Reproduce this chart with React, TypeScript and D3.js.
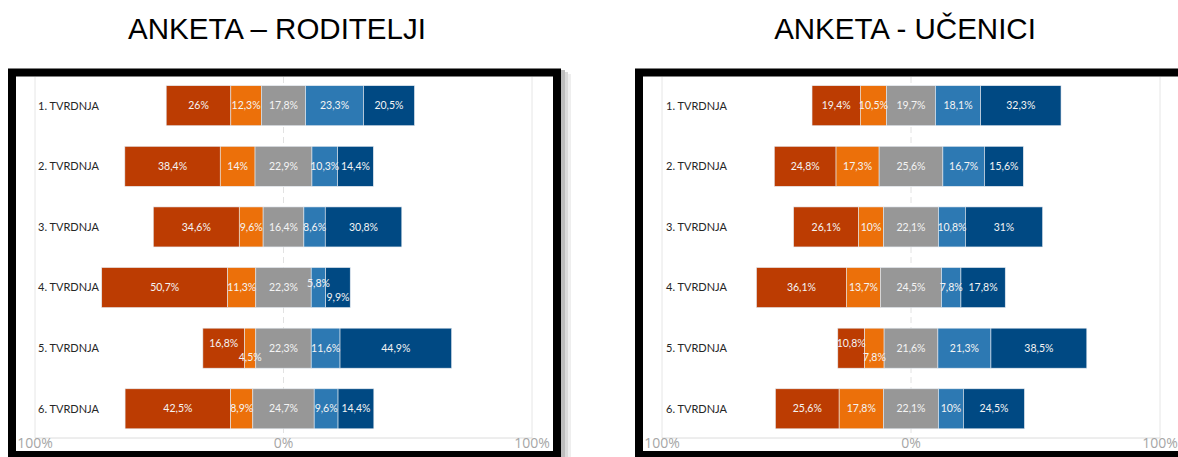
import React from 'react';
import * as d3 from 'd3';

const categories = ['1. TVRDNJA', '2. TVRDNJA', '3. TVRDNJA', '4. TVRDNJA', '5. TVRDNJA', '6. TVRDNJA'];

// five answer levels per statement, from most negative to most positive
const roditelji = [
	[26, 12.3, 17.8, 23.3, 20.5],
	[38.4, 14, 22.9, 10.3, 14.4],
	[34.6, 9.6, 16.4, 8.6, 30.8],
	[50.7, 11.3, 22.3, 5.8, 9.9],
	[16.8, 4.5, 22.3, 11.6, 44.9],
	[42.5, 8.9, 24.7, 9.6, 14.4],
];

const ucenici = [
	[19.4, 10.5, 19.7, 18.1, 32.3],
	[24.8, 17.3, 25.6, 16.7, 15.6],
	[26.1, 10, 22.1, 10.8, 31],
	[36.1, 13.7, 24.5, 7.8, 17.8],
	[10.8, 7.8, 21.6, 21.3, 38.5],
	[25.6, 17.8, 22.1, 10, 24.5],
];

const axisTicks = [-100, 0, 100];

const colors = ['#bc3c02', '#ec700a', '#979797', '#2d79b3', '#004983'];

// labels that Excel pushed apart because they collide: [row, segment, dy]
type Nudge = [number, number, number];

const fmt = (v: number) => `${String(v).replace('.', ',')}%`;

interface PanelProps {
	title: string;
	titleX: number;
	data: number[][];
	xRange: [number, number];
	labelX: number;
	frameX: number;
	frameW: number;
	nudges: Nudge[];
}

const Panel: React.FC<PanelProps> = ({ title, titleX, data, xRange, labelX, frameX, frameW, nudges }) => {
	const x = d3.scaleLinear().domain([-100, 100]).range(xRange);
	const y = d3
		.scaleBand<string>()
		.domain(categories)
		.range([76, 438.5])
		.paddingInner(0.34)
		.paddingOuter(0.16);
	const plotTop = 77;
	const plotBottom = 438;

	return (
		<g>
			<text
				x={titleX}
				y={39}
				textAnchor='middle'
				fontFamily='Liberation Sans, Arial, sans-serif'
				fontSize={29.5}
				fill='#000'
			>
				{title}
			</text>
			<rect x={frameX} y={72.5} width={frameW} height={382.5} fill='#fff' stroke='#000' strokeWidth={8} />

			{/* grid */}
			<line x1={x(-100)} x2={x(-100)} y1={plotTop} y2={plotBottom} stroke='#e6e6e6' />
			<line x1={x(100)} x2={x(100)} y1={plotTop} y2={plotBottom} stroke='#e6e6e6' />
			<line x1={x(0)} x2={x(0)} y1={plotTop} y2={plotBottom} stroke='#e2e2e2' strokeDasharray='6,4' />
			<line x1={x(-100)} x2={x(100)} y1={plotBottom} y2={plotBottom} stroke='#dcdcdc' />
			{axisTicks.map((t) => (
				<text
					key={t}
					x={x(t)}
					y={448}
					textAnchor='middle'
					fontFamily='Open Sans, sans-serif'
					fontSize={14}
					fill='#a6a6a6'
				>
					{`${Math.abs(t)}%`}
				</text>
			))}

			{data.map((row, i) => {
				const cat = categories[i];
				const y0 = y(cat) ?? 0;
				const start = -(row[0] + row[1] + row[2] / 2);
				const bounds = row.map((_, j) => start + d3.sum(row.slice(0, j)));
				return (
					<g key={cat}>
						<text
							x={labelX}
							y={y0 + y.bandwidth() / 2}
							dy='0.35em'
							fontFamily='Lato, sans-serif'
							fontSize={11}
							fill='#262626'
						>
							{cat}
						</text>
						{row.map((v, j) => (
							<rect
								key={j}
								x={x(bounds[j])}
								y={y0}
								width={x(bounds[j] + v) - x(bounds[j])}
								height={y.bandwidth()}
								fill={colors[j]}
								stroke='#e4eaf0'
								strokeWidth={0.6}
							/>
						))}
						{row.map((v, j) => {
							const n = nudges.find((d) => d[0] === i && d[1] === j);
							return (
								<text
									key={`l${j}`}
									x={x(bounds[j] + v / 2)}
									y={y0 + y.bandwidth() / 2 + (n ? n[2] : 0)}
									dy='0.35em'
									textAnchor='middle'
									fontFamily='Lato, sans-serif'
									fontSize={10.5}
									fill='#f4f4f4'
								>
									{fmt(v)}
								</text>
							);
						})}
					</g>
				);
			})}
		</g>
	);
};

export default function App() {
	return (
		<svg
			width={1178}
			height={457}
			style={{ position: 'absolute', left: 0, top: 0, background: '#fff' }}
		>
			<rect x={0} y={0} width={1178} height={457} fill='#fff' />
			{/* soft shadow right of the first frame */}
			<rect x={561} y={70} width={4} height={387} fill='#bdbdbd' />
			<rect x={565} y={72} width={3} height={385} fill='#dadada' />
			<rect x={568} y={74} width={3} height={383} fill='#eeeeee' />
			<Panel
				title='ANKETA – RODITELJI'
				titleX={277}
				data={roditelji}
				xRange={[35, 532]}
				labelX={38}
				frameX={12}
				frameW={545}
				nudges={[
					[3, 3, -4],
					[3, 4, 10],
					[4, 0, -5],
					[4, 1, 9],
				]}
			/>
			<Panel
				title='ANKETA - UČENICI'
				titleX={905}
				data={ucenici}
				xRange={[662, 1160]}
				labelX={666}
				frameX={639}
				frameW={600}
				nudges={[
					[4, 0, -5],
					[4, 1, 9],
				]}
			/>
		</svg>
	);
}
